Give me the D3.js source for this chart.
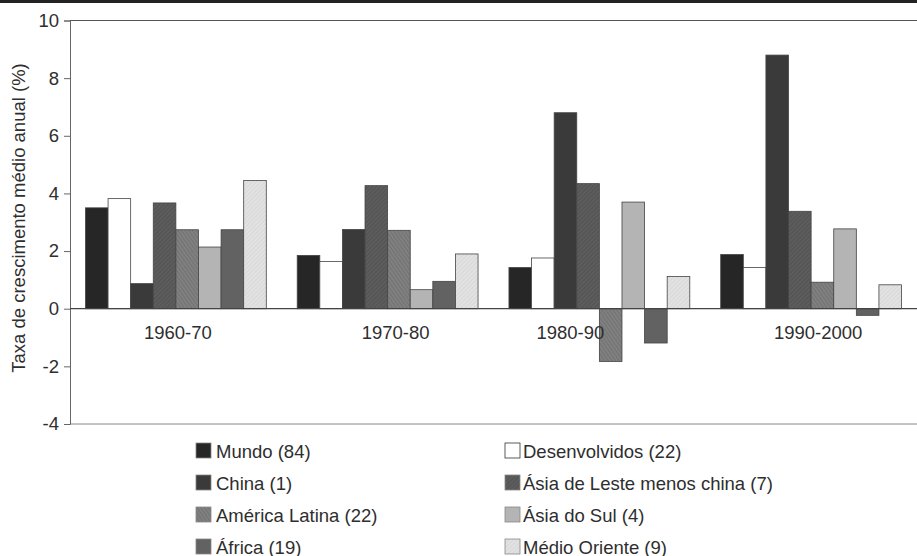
<!doctype html>
<html>

<head>
    <meta charset="UTF-8">
    <title>Taxa de crescimento</title>
    <script src="https://d3js.org/d3.v7.min.js"></script>
    <style>
        body { margin: 0; background: #fff; }
        text { font-family: "Liberation Sans", Arial, sans-serif; fill: #2e2e2e; }
    </style>
</head>

<body>
    <script>
        var width = 917;
        var height = 556;

        var periods = ["1960-70", "1970-80", "1980-90", "1990-2000"];
        var regions = ["Mundo (84)", "Desenvolvidos (22)", "China (1)", "Ásia de Leste menos china (7)",
            "América Latina (22)", "Ásia do Sul (4)", "África (19)", "Médio Oriente (9)"];
        // one array per region, values per period
        var mundo = [3.5, 1.85, 1.43, 1.88];
        var desenvolvidos = [3.82, 1.64, 1.76, 1.43];
        var china = [0.87, 2.75, 6.8, 8.8];
        var asiaLeste = [3.67, 4.27, 4.34, 3.38];
        var americaLatina = [2.74, 2.72, -1.83, 0.92];
        var asiaSul = [2.14, 0.66, 3.7, 2.77];
        var africa = [2.74, 0.95, -1.19, -0.23];
        var medioOriente = [4.45, 1.9, 1.12, 0.83];
        var series = [mundo, desenvolvidos, china, asiaLeste, americaLatina, asiaSul, africa, medioOriente];
        var yTicks = [-4, -2, 0, 2, 4, 6, 8, 10];

        var fills = ["#262626", "#ffffff", "#3a3a3a", "url(#pEast)", "url(#pLat)", "#b4b4b4", "#626262", "url(#pMid)"];

        var margin = { left: 70, top: 20.5, right: 0, bottom: 132 };

        var svg = d3.select("body").append("svg")
            .attr("width", width)
            .attr("height", height);

        // light textures like the printed original
        var defs = svg.append("defs");
        function texture(id, base, line, angle) {
            var p = defs.append("pattern").attr("id", id)
                .attr("width", 3).attr("height", 3)
                .attr("patternUnits", "userSpaceOnUse")
                .attr("patternTransform", "rotate(" + angle + ")");
            p.append("rect").attr("width", 3).attr("height", 3).attr("fill", base);
            p.append("rect").attr("width", 1).attr("height", 3).attr("fill", line);
        }
        texture("pEast", "#565656", "#606060", 45);
        texture("pLat", "#808080", "#727272", -35);
        texture("pMid", "#e2e2e2", "#d8d8d8", 45);

        // top rule
        svg.append("rect").attr("x", 0).attr("y", 0).attr("width", width).attr("height", 3).attr("fill", "#222");

        var x0 = d3.scaleBand()
            .domain(periods)
            .range([margin.left, width - margin.right])
            .paddingInner(0.146)
            .paddingOuter(0.073);

        var x1 = d3.scaleBand()
            .domain(d3.range(regions.length))
            .range([0, x0.bandwidth()]);

        var y = d3.scaleLinear()
            .domain([-4, 10])
            .range([424, margin.top]);

        // frame lines
        svg.append("line").attr("x1", margin.left).attr("x2", width)
            .attr("y1", y(10)).attr("y2", y(10)).attr("stroke", "#555");
        svg.append("line").attr("x1", margin.left).attr("x2", width)
            .attr("y1", y(-4)).attr("y2", y(-4)).attr("stroke", "#888");

        var yAxis = svg.append("g")
            .attr("transform", "translate(" + margin.left + ",0)")
            .call(d3.axisLeft(y).tickValues(yTicks).tickSize(6).tickPadding(5)
                .tickFormat(function (d) { return String(d); }));
        yAxis.select(".domain").attr("stroke", "#666");
        yAxis.selectAll(".tick line").attr("stroke", "#666");
        yAxis.selectAll("text").style("font-size", "18.5px").attr("fill", "#2e2e2e");

        // bars
        var groups = svg.selectAll("g.period").data(periods).enter().append("g")
            .attr("class", "period")
            .attr("transform", function (d) { return "translate(" + x0(d) + ",0)"; });

        groups.selectAll("rect")
            .data(function (d, i) { return series.map(function (s, k) { return { k: k, v: s[i] }; }); })
            .enter().append("rect")
            .attr("x", function (d) { return x1(d.k); })
            .attr("width", x1.bandwidth())
            .attr("y", function (d) { return y(Math.max(0, d.v)); })
            .attr("height", function (d) { return Math.abs(y(d.v) - y(0)); })
            .attr("fill", function (d) { return fills[d.k]; })
            .attr("stroke", "#444")
            .attr("stroke-width", 0.8);

        // zero line
        svg.append("line").attr("x1", margin.left).attr("x2", width)
            .attr("y1", y(0)).attr("y2", y(0)).attr("stroke", "#444").attr("stroke-width", 1.2);

        // period labels (1980-90 sits left of the negative bar)
        var labelShift = [2, 8, -29, 7];
        svg.selectAll("text.period").data(periods).enter().append("text")
            .attr("class", "period")
            .attr("x", function (d, i) { return x0(d) + x0.bandwidth() / 2 + labelShift[i]; })
            .attr("y", y(0) + 30)
            .attr("text-anchor", "middle")
            .style("font-size", "18.5px")
            .text(function (d) { return d; });

        // y label
        svg.append("text")
            .attr("transform", "translate(25," + 218 + ") rotate(-90)")
            .attr("text-anchor", "middle")
            .style("font-size", "18.5px")
            .text("Taxa de crescimento médio anual (%)");

        // legend: two columns
        var legend = svg.selectAll("g.leg").data(regions).enter().append("g")
            .attr("class", "leg")
            .attr("transform", function (d, i) {
                var col = i % 2, row = Math.floor(i / 2);
                return "translate(" + (col === 0 ? 196 : 505) + "," + (443 + row * 32) + ")";
            });
        legend.append("rect")
            .attr("width", 15).attr("height", 15)
            .attr("fill", function (d, i) { return fills[i]; })
            .attr("stroke", function (d, i) { return i === 1 ? "#333" : "#888"; })
            .attr("stroke-width", 0.8);
        legend.append("text")
            .attr("x", function (d, i) { return i % 2 === 0 ? 20 : 18; })
            .attr("y", 14.5)
            .style("font-size", "18.5px")
            .text(function (d) { return d; });
    </script>
</body>

</html>
